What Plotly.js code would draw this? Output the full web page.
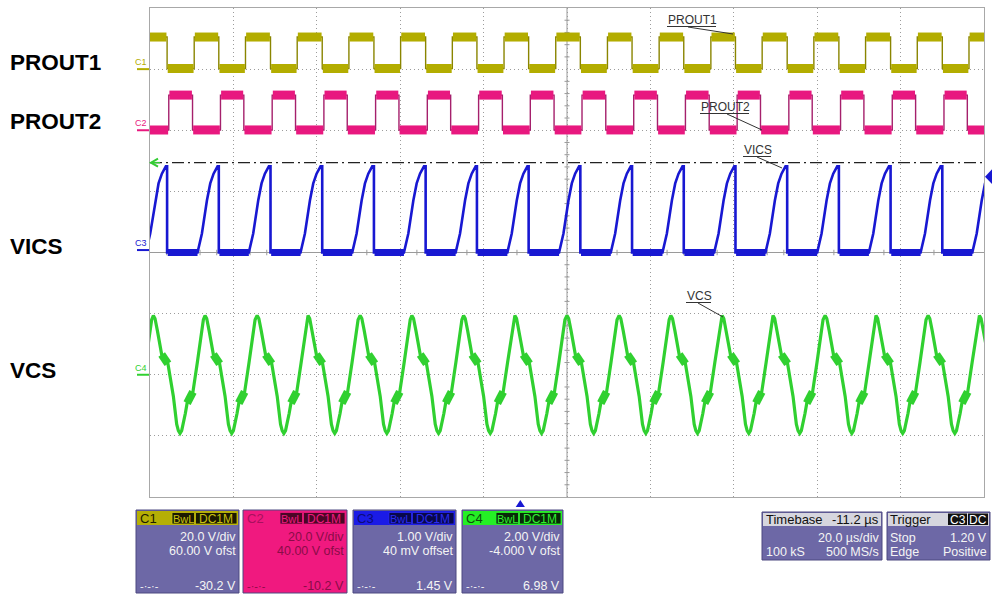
<!DOCTYPE html>
<html>
<head>
<meta charset="utf-8">
<script src="https://cdn.plot.ly/plotly-3.0.1.min.js"></script>
<style>
html,body{margin:0;padding:0;background:#ffffff;}
#chart{width:992px;height:595px;}
</style>
</head>
<body>
<div id="chart"></div>
<script>
// ===== values read from the oscilloscope capture =====
const signalNames  = ['PROUT1', 'PROUT2', 'VICS', 'VCS'];
const channelNames = ['C1', 'C2', 'C3', 'C4'];
const voltsPerDiv  = [20, 20, 1, 2];
const offsetVolts  = [60, 40, 0.04, -4];
const usPerDiv     = 20;

// PROUT1 (C1) edge times, µs from the left edge of the screen
const c1RiseUs = [-1.8, 10.6, 22.9, 35.3, 47.7, 60.1, 72.5, 84.9, 97.3, 109.7, 122.1, 134.5, 146.8, 159.2, 171.6, 184.0, 196.4];
const c1FallUs = [4.1, 16.5, 28.9, 41.3, 53.7, 66.1, 78.4, 90.8, 103.2, 115.6, 128.0, 140.4, 152.8, 165.2, 177.6, 190.0, 202.3];
const c1LowV = 0.2;
const c1HighV = 10.5;

// PROUT2 (C2)
const c2RiseUs = [4.5, 16.9, 29.3, 41.7, 54.1, 66.5, 78.8, 91.2, 103.6, 116.0, 128.4, 140.8, 153.2, 165.6, 178.0, 190.4];
const c2FallUs = [10.2, 22.5, 34.9, 47.3, 59.7, 72.1, 84.5, 96.9, 109.3, 121.7, 134.1, 146.4, 158.8, 171.2, 183.6, 196.0];
const c2LowV = 0.1;
const c2HighV = 11.5;

// VICS (C3): ramp that starts after each PROUT1 rising edge, reset at the PROUT1 falling edge
const vicsRampDelayUs = [0.8, 1.85, 3.05, 3.85, 4.65, 5.6];
const vicsRampV       = [-0.04, 0.27, 0.81, 1.09, 1.25, 1.37];
const vicsLowV        = -0.04;

// VCS (C4): peak times and one cycle
const vcsPeakUs        = [-11.6, 0.8, 13.2, 25.7, 37.9, 50.4, 62.8, 75.2, 87.5, 100.0, 112.5, 124.9, 137.2, 149.4, 161.9, 174.1, 186.6, 198.9];
const vcsCycleOffsetUs = [0, 0.4, 0.96, 2.0, 2.5, 3.0, 3.5, 4.8, 5.6, 6.0, 6.4, 6.8, 7.67, 8.1, 8.8, 9.5, 10.55, 11.5, 12.0];
const vcsCycleV        = [1.94, 1.84, 1.45, 0.66, 0.56, 0.50, 0.36, -0.70, -1.62, -1.83, -1.92, -1.83, -1.27, -0.93, -0.78, -0.56, 0.40, 1.28, 1.80];
const vcsKneeOffsetUs  = [2.0, 2.5, 3.0, 3.5, null, 8.1, 8.8, 9.5];
const vcsKneeV         = [0.66, 0.56, 0.50, 0.36, null, -0.93, -0.78, -0.56];

// markers
const refLineDiv      = 1.47;
const triggerLevelV   = 1.20;
const timebaseDelayUs = -11.2;

// readout panels
const panelScale   = ['20.0 V/div', '20.0 V/div', '1.00 V/div', '2.00 V/div'];
const panelOffset  = ['60.00 V ofst', '40.00 V ofst', '40 mV offset', '-4.000 V ofst'];
const panelCursor  = ['-30.2 V', '-10.2 V', '1.45 V', '6.98 V'];
const timebaseText = ['Timebase', '-11.2 µs', '20.0 µs/div', '100 kS', '500 MS/s'];
const triggerText  = ['Trigger', 'C3', 'DC', 'Stop', '1.20 V', 'Edge', 'Positive'];

// ===== build traces =====
function squareWave(rise, fall, lo, hi) {
  const edges = rise.map(t => [t, hi]).concat(fall.map(t => [t, lo])).sort((a, b) => a[0] - b[0]);
  let level = edges[0][1] === hi ? lo : hi;
  const x = [-20], y = [level];
  for (const [t, v] of edges) { x.push(t, t); y.push(level, v); level = v; }
  x.push(220); y.push(level);
  return {x, y};
}
function bands(w, gap) {
  const x = [], y = [];
  for (let i = 0; i < w.x.length - 1; i++) {
    if (w.y[i] === w.y[i + 1] && w.x[i + 1] > w.x[i]) {
      x.push(w.x[i] + gap, w.x[i + 1] - gap, null);
      y.push(w.y[i], w.y[i + 1], null);
    }
  }
  return {x, y};
}
const c1 = squareWave(c1RiseUs, c1FallUs, c1LowV, c1HighV);
const c2 = squareWave(c2RiseUs, c2FallUs, c2LowV, c2HighV);
const c1b = bands(c1, 0.15), c2b = bands(c2, 0.15);

const vics = {x: [-20], y: [vicsLowV]};
const vicsLow = {x: [], y: []};
let prevFall = -20;
c1RiseUs.forEach((r, i) => {
  const f = c1FallUs[i];
  vicsLow.x.push(prevFall + 0.15, r + vicsRampDelayUs[0], null);
  vicsLow.y.push(vicsLowV, vicsLowV, null);
  let last = vicsLowV;
  vicsRampDelayUs.forEach((d, k) => {
    if (r + d < f) { vics.x.push(r + d); vics.y.push(vicsRampV[k]); last = vicsRampV[k]; }
  });
  vics.x.push(f, f); vics.y.push(last, vicsLowV);
  prevFall = f;
});
vics.x.push(220); vics.y.push(vicsLowV);

const vcs = {x: [], y: []}, vcsKnee = {x: [], y: []};
vcsPeakUs.forEach(p => {
  vcsCycleOffsetUs.forEach((d, k) => { vcs.x.push(p + d); vcs.y.push(vcsCycleV[k]); });
  vcsKneeOffsetUs.forEach((d, k) => { vcsKnee.x.push(d === null ? null : p + d); vcsKnee.y.push(vcsKneeV[k]); });
  vcsKnee.x.push(null); vcsKnee.y.push(null);
});

const col = {
  c1: '#b3ad00', c1e: '#8a8500',
  c2: '#e8187f', c2e: '#a5206c',
  c3: '#1818d2', c3e: '#12129a',
  c4: '#30d030'
};
const L = (c, w) => ({color: c, width: w});
const traces = [
  {x: c1.x, y: c1.y, yaxis: 'y2', mode: 'lines', line: L(col.c1e, 1.4), hoverinfo: 'skip', name: signalNames[0]},
  {x: c1b.x, y: c1b.y, yaxis: 'y2', mode: 'lines', line: L(col.c1, 9), hoverinfo: 'skip', connectgaps: false},
  {x: c2.x, y: c2.y, yaxis: 'y3', mode: 'lines', line: L(col.c2e, 1.4), hoverinfo: 'skip', name: signalNames[1]},
  {x: c2b.x, y: c2b.y, yaxis: 'y3', mode: 'lines', line: L(col.c2, 9), hoverinfo: 'skip', connectgaps: false},
  {x: vics.x, y: vics.y, yaxis: 'y4', mode: 'lines', line: L(col.c3, 2.6), hoverinfo: 'skip', name: signalNames[2]},
  {x: vicsLow.x, y: vicsLow.y, yaxis: 'y4', mode: 'lines', line: L(col.c3, 7), hoverinfo: 'skip', connectgaps: false},
  {x: vcs.x, y: vcs.y, yaxis: 'y5', mode: 'lines', line: L(col.c4, 3.2), hoverinfo: 'skip', name: signalNames[3]},
  {x: vcsKnee.x, y: vcsKnee.y, yaxis: 'y5', mode: 'lines', line: L(col.c4, 8), hoverinfo: 'skip', connectgaps: false}
];

// ===== layout helpers (pixel positions of the screen furniture) =====
const PL = 150, PT = 8, PW = 834, PH = 489;
const pxX = x => (x - PL) / PW;
const pxY = y => (PT + PH - y) / PH;
const shapes = [], annos = [];
const FONT = 'Liberation Sans, Arial, Helvetica, sans-serif';
function rect(x0, y0, x1, y1, fill, lc, lw) {
  shapes.push({type: 'rect', xref: 'paper', yref: 'paper', x0: pxX(x0), x1: pxX(x1), y0: pxY(y1), y1: pxY(y0),
    fillcolor: fill, line: {color: lc || fill, width: lw || 0}, layer: 'above'});
}
function seg(x0, y0, x1, y1, c, w) {
  shapes.push({type: 'line', xref: 'paper', yref: 'paper', x0: pxX(x0), x1: pxX(x1), y0: pxY(y0), y1: pxY(y1),
    line: {color: c, width: w || 1}, layer: 'above'});
}
function txt(x, y, s, size, color, anchor, bold) {
  annos.push({xref: 'paper', yref: 'paper', x: pxX(x), y: pxY(y), text: bold ? '<b>' + s + '</b>' : s,
    showarrow: false, xanchor: anchor || 'left', yanchor: 'middle', borderpad: 0,
    font: {family: FONT, size: size, color: color}});
}
function path(d, fill, lc, lw) {
  shapes.push({type: 'path', xref: 'paper', yref: 'paper', path: d, fillcolor: fill, line: {color: lc || fill, width: lw || 0}, layer: 'above'});
}
const P = (x, y) => pxX(x) + ',' + pxY(y);

// centre cross with 0.2-div ticks
shapes.push({type: 'line', xref: 'x', yref: 'y', x0: 5 * usPerDiv, x1: 5 * usPerDiv, y0: -4, y1: 4, line: {color: '#9a9a9a', width: 1}, layer: 'between'});
shapes.push({type: 'line', xref: 'x', yref: 'y', x0: 0, x1: 10 * usPerDiv, y0: 0, y1: 0, line: {color: '#9a9a9a', width: 1}, layer: 'between'});
for (let k = -20; k <= 20; k++) {
  if (k % 5 === 0) continue;
  shapes.push({type: 'line', xref: 'x', yref: 'y', x0: 5 * usPerDiv - 0.6, x1: 5 * usPerDiv + 0.6, y0: k / 5, y1: k / 5, line: {color: '#9a9a9a', width: 1}, layer: 'between'});
}
for (let k = 1; k < 50; k++) {
  if (k % 5 === 0) continue;
  const t = k * usPerDiv / 5;
  shapes.push({type: 'line', xref: 'x', yref: 'y', x0: t, x1: t, y0: -0.045, y1: 0.045, line: {color: '#9a9a9a', width: 1}, layer: 'between'});
}

// dash-dot reference line
shapes.push({type: 'line', xref: 'x', yref: 'y', x0: 0, x1: 10 * usPerDiv, y0: refLineDiv, y1: refLineDiv,
  line: {color: '#222222', width: 1.2, dash: '12px,4px,2px,4px'}, layer: 'above'});
// green arrow at left of reference line
const refY = PT + PH / 2 - refLineDiv * PH / 8;
path('M' + P(158, refY - 4) + 'L' + P(151, refY) + 'L' + P(158, refY + 4), 'rgba(0,0,0,0)', '#33cc33', 2);
seg(151, refY, 160, refY, '#33cc33', 1.5);

// trigger level (C3) arrow at the right border
shapes.push({type: 'path', xref: 'paper', yref: 'y4',
  path: 'M' + pxX(992) + ',' + (triggerLevelV + 0.12) + 'L' + pxX(985) + ',' + triggerLevelV + 'L' + pxX(992) + ',' + (triggerLevelV - 0.12) + 'Z',
  fillcolor: '#1818d2', line: {width: 0}, layer: 'above'});
// trigger time arrow under the grid
const trigX = 5 * usPerDiv + timebaseDelayUs;
shapes.push({type: 'path', xref: 'x', yref: 'paper',
  path: 'M' + (trigX - 1.1) + ',' + pxY(507) + 'L' + trigX + ',' + pxY(500) + 'L' + (trigX + 1.1) + ',' + pxY(507) + 'Z',
  fillcolor: '#1818d2', line: {width: 0}, layer: 'above'});

// channel ground markers at the left border
const markCol = [col.c1, col.c2, col.c3, col.c4];
channelNames.forEach((c, i) => {
  const gDiv = offsetVolts[i] / voltsPerDiv[i];
  shapes.push({type: 'line', xref: 'paper', yref: 'y', x0: pxX(137), x1: pxX(149), y0: gDiv, y1: gDiv,
    line: {color: markCol[i], width: 2}, layer: 'above'});
  annos.push({xref: 'paper', yref: 'y', x: pxX(141), y: gDiv, yshift: 7, text: c, showarrow: false,
    xanchor: 'center', yanchor: 'middle', font: {family: FONT, size: 9, color: markCol[i]}});
});

// big signal names on the left
const nameY = [63, 121, 246, 371];
signalNames.forEach((s, i) => txt(9, nameY[i], s, 22.5, '#000000', 'left', true));

// labels with leader lines inside the grid
const tag = [
  {s: signalNames[0], x: 667, w: 49, y: 20, lx: 688, tx: 733, ty: 34},
  {s: signalNames[1], x: 700, w: 49, y: 107, lx: 727, tx: 762, ty: 130},
  {s: signalNames[2], x: 743, w: 28, y: 150, lx: 757, tx: 782, ty: 168},
  {s: signalNames[3], x: 686, w: 25, y: 296, lx: 698, tx: 723, ty: 317}
];
tag.forEach(t => {
  txt(t.x, t.y, t.s, 12, '#333333', 'left');
  seg(t.x, t.y + 6.5, t.x + t.w, t.y + 6.5, '#333333', 1);
  seg(t.lx, t.y + 7, t.tx, t.ty, '#333333', 1);
});

// channel readout panels
const panelX = [[136, 239], [243, 347], [353, 456], [462, 563]];
const headFill  = ['#b5af05', '#f0197f', '#1b1be6', '#25ef25'];
const headTxt   = ['#1e1c00', '#a8105e', '#0c0c78', '#0e4a0e'];
const badgeFill = ['#1a1900', '#4a0626', '#08084a', '#072a07'];
const badgeTxt  = ['#c8c010', '#f0197f', '#2a2af0', '#30f030'];
const bodyFill  = ['#6d68a6', '#f0197f', '#6d68a6', '#6d68a6'];
const bodyTxt   = ['#f4f4f4', '#8a0c48', '#f4f4f4', '#f4f4f4'];
panelX.forEach(([x0, x1], i) => {
  rect(x0, 510, x1, 593, bodyFill[i], '#4c4880', 1);
  rect(x0 + 1, 511, x1 - 1, 525, headFill[i]);
  txt(x0 + 3, 518, channelNames[i], 13, headTxt[i], 'left');
  rect(x1 - 67, 512.5, x1 - 44.5, 524, badgeFill[i], badgeTxt[i], 0.8);
  txt(x1 - 55.75, 518.5, 'BwL', 11, badgeTxt[i], 'center');
  rect(x1 - 43.5, 512.5, x1 - 2, 524, badgeFill[i], badgeTxt[i], 0.8);
  txt(x1 - 22.75, 518.5, 'DC1M', 12, badgeTxt[i], 'center');
  txt(x1 - 2, 537, panelScale[i], 12.5, bodyTxt[i], 'right');
  txt(x1 - 2, 551, panelOffset[i], 12.5, bodyTxt[i], 'right');
  txt(x0 + 3, 586, '-·-·-', 11, bodyTxt[i], 'left');
  txt(x1 - 2, 586, panelCursor[i], 12.5, bodyTxt[i], 'right');
});

// timebase panel
rect(762, 512, 882, 560, '#6d68a6', '#4c4880', 1);
rect(763, 513, 881, 526, '#d6d6de');
txt(765, 519.5, timebaseText[0], 13, '#111111', 'left');
txt(880, 519.5, timebaseText[1], 13, '#111111', 'right');
txt(880, 538, timebaseText[2], 12.5, '#f4f4f4', 'right');
txt(765, 552, timebaseText[3], 12.5, '#f4f4f4', 'left');
txt(880, 552, timebaseText[4], 12.5, '#f4f4f4', 'right');
// trigger panel
rect(887, 512, 990, 560, '#6d68a6', '#4c4880', 1);
rect(888, 513, 989, 526, '#d6d6de');
txt(889, 519.5, triggerText[0], 13, '#111111', 'left');
rect(948, 513.5, 967, 525, '#111111');
txt(957.5, 519.5, triggerText[1], 12, '#ffffff', 'center');
rect(968, 513.5, 988, 525, '#111111');
txt(978, 519.5, triggerText[2], 12, '#ffffff', 'center');
txt(889, 538, triggerText[3], 12.5, '#f4f4f4', 'left');
txt(988, 538, triggerText[4], 12.5, '#f4f4f4', 'right');
txt(889, 552, triggerText[5], 12.5, '#f4f4f4', 'left');
txt(988, 552, triggerText[6], 12.5, '#f4f4f4', 'right');

// ===== axes =====
const gridAxis = (range, dtick) => ({
  range: range, dtick: dtick, tick0: 0, showgrid: true, gridcolor: '#9c9c9c', griddash: '1px,3px', gridwidth: 1,
  zeroline: false, showticklabels: false, ticks: '', showline: true, mirror: true,
  linecolor: '#a8a8a8', linewidth: 1, fixedrange: true
});
const chAxis = i => ({
  overlaying: 'y', anchor: 'x', visible: false, fixedrange: true,
  range: [-4 * voltsPerDiv[i] - offsetVolts[i], 4 * voltsPerDiv[i] - offsetVolts[i]]
});
const layout = {
  width: 992, height: 595,
  margin: {l: PL, r: 992 - PL - PW, t: PT, b: 595 - PT - PH, pad: 0},
  paper_bgcolor: '#ffffff', plot_bgcolor: '#ffffff',
  showlegend: false,
  font: {family: FONT, size: 12, color: '#222222'},
  xaxis: gridAxis([0, 10 * usPerDiv], usPerDiv),
  yaxis: gridAxis([-4, 4], 1),
  yaxis2: chAxis(0), yaxis3: chAxis(1), yaxis4: chAxis(2), yaxis5: chAxis(3),
  shapes: shapes, annotations: annos
};
Plotly.newPlot('chart', traces, layout, {staticPlot: true, displayModeBar: false});
</script>
</body>
</html>
